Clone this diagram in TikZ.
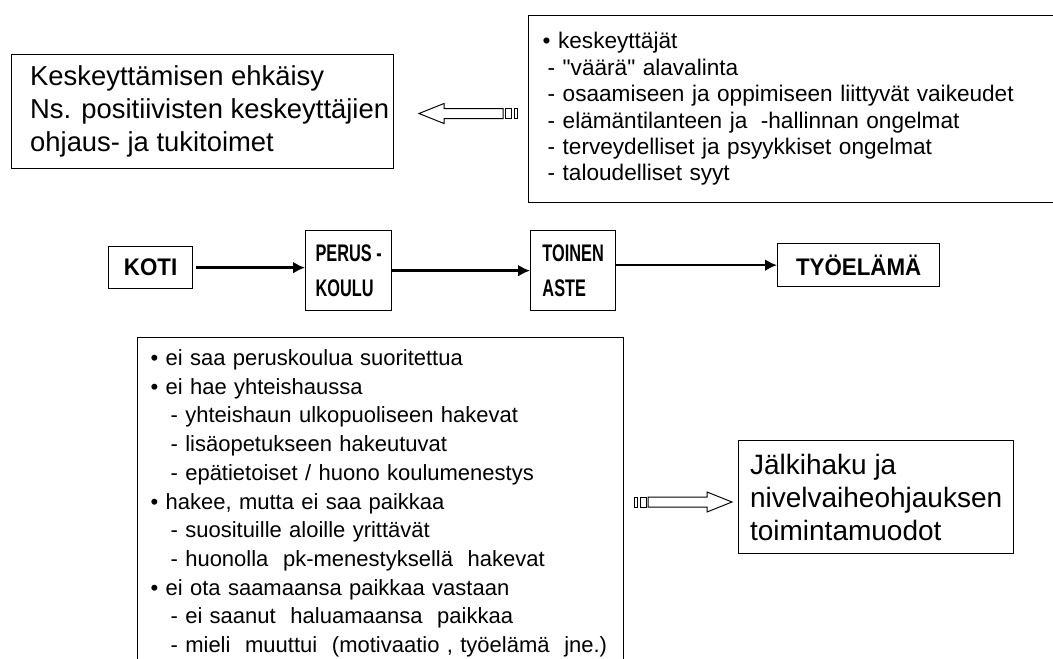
\documentclass[tikz,border=0pt]{standalone}
\usepackage{fontspec}
\setmainfont{Liberation Sans}
\newfontfamily\flowfont[FakeStretch=0.93]{Liberation Sans}
\newfontfamily\narrowflowfont[FakeStretch=0.68]{Liberation Sans}
\usetikzlibrary{arrows.meta,calc,positioning}
\tikzset{%
	textbox/.style   = {draw, line width=1.3pt, rectangle, align=left},
	bigtext/.style   = {font=\fontsize{28pt}{33pt}\selectfont},
	listtext/.style  = {font=\fontsize{22.6pt}{26.4pt}\selectfont},
	flowbox/.style   = {draw, line width=1.3pt, rectangle, align=left, font=\flowfont\fontsize{24pt}{34pt}\selectfont\bfseries},
	narrowbox/.style = {flowbox, font=\narrowflowfont\fontsize{24pt}{35pt}\selectfont\bfseries},
	flowarrow/.style = {line width=2.4pt, -{Latex[length=12pt,width=12pt]}},
	hollow/.style    = {draw, line width=1pt, fill=white, line join=miter},
}
\newcommand{\bul}{\textbullet\ }
\newcommand{\subline}[1][5pt]{\hspace*{#1}- }

\begin{document}
\begin{tikzpicture}[x=1pt,y=-1pt]
	
	\clip (0,0) rectangle (1053,659);
	\fill[white] (0,0) rectangle (1053,659);
	
	% upper boxes
	\node[textbox, anchor=north west, minimum width=382pt, minimum height=114pt] (ehkaisy) at (11,54) {};
	\node[bigtext, font=\fontsize{27.4pt}{33pt}\selectfont, align=left, inner sep=0pt, right=19pt of ehkaisy.west] (ehkaisytext)
	{Keskeyttämisen ehkäisy\\Ns. positiivisten keskeyttäjien\\ohjaus- ja tukitoimet};
	\node[textbox, listtext, anchor=north west, text width=520pt, inner xsep=14pt, minimum height=187pt] (syyt) at (528,15)
	{\bul keskeyttäjät\\
	 \subline \textquotedbl väärä\textquotedbl\ alavalinta\\
	 \subline osaamiseen ja oppimiseen liittyvät vaikeudet\\
	 \subline elämäntilanteen ja\hspace{0.6em}-hallinnan ongelmat\\
	 \subline terveydelliset ja psyykkiset ongelmat\\
	 \subline taloudelliset syyt};
	
	% flow
	\node[flowbox, anchor=north west, minimum width=84pt, minimum height=42pt] (koti) at (108,246) {KOTI};
	\node[narrowbox, anchor=north west, minimum width=86pt, minimum height=80pt] (perus) at (305,230) {PERUS -\\KOULU};
	\node[narrowbox, anchor=north west, minimum width=85pt, minimum height=80pt] (toinen) at (530,230) {TOINEN\\ASTE};
	\node[flowbox, anchor=north west, minimum width=162pt, minimum height=43pt] (tyo) at (777,243) {TYÖELÄMÄ};
	
	\draw[flowarrow, shorten <=3pt] (koti.east) -- (koti.east -| perus.west);
	\draw[flowarrow] (perus.east) -- (toinen.west);
	\draw[flowarrow] (toinen.east |- tyo.west) -- (tyo.west);
	
	% lower boxes
	\node[textbox, font=\fontsize{22pt}{28.7pt}\selectfont, anchor=north west, text width=460pt, inner xsep=13pt, inner ysep=12pt] (haku) at (137,337)
	{\bul ei saa peruskoulua suoritettua\\
	 \bul ei hae yhteishaussa\\
	 \subline[20pt]yhteishaun ulkopuoliseen hakevat\\
	 \subline[20pt]lisäopetukseen hakeutuvat\\
	 \subline[20pt]epätietoiset / huono koulumenestys\\
	 \bul hakee, mutta ei saa paikkaa\\
	 \subline[20pt]suosituille aloille yrittävät\\
	 \subline[20pt]huonolla~ pk-menestyksellä~ hakevat\\
	 \bul ei ota saamaansa paikkaa vastaan\\
	 \subline[20pt]ei saanut~ haluamaansa~ paikkaa\\
	 \subline[20pt]mieli~ muuttui~ (motivaatio , työelämä~ jne.)};
	\node[textbox, bigtext, anchor=north west, minimum width=275pt, minimum height=113pt] (jalki) at (738,440)
	{Jälkihaku ja\\nivelvaiheohjauksen\\toimintamuodot};
	
	% striped arrows
	\coordinate (tipleft) at (419,113.5);
	\coordinate (tipright) at (732,502);
	
	\begin{scope}[shift={(tipleft)}, xscale=-1]
	\draw[hollow] (0,0) -- (-25,-10) -- (-25,-5) -- (-84,-5) -- (-84,5) -- (-25,5) -- (-25,10) -- cycle;
	\draw[hollow] (-92,-5) rectangle (-86,5);
	\draw[hollow] (-98,-5) rectangle (-95,5);
	\end{scope}
	
	\begin{scope}[shift={(tipright)}]
	\draw[hollow] (0,0) -- (-25,-10) -- (-25,-5) -- (-84,-5) -- (-84,5) -- (-25,5) -- (-25,10) -- cycle;
	\draw[hollow] (-92,-5) rectangle (-86,5);
	\draw[hollow] (-98,-5) rectangle (-95,5);
	\end{scope}
	
\end{tikzpicture}
\end{document}
